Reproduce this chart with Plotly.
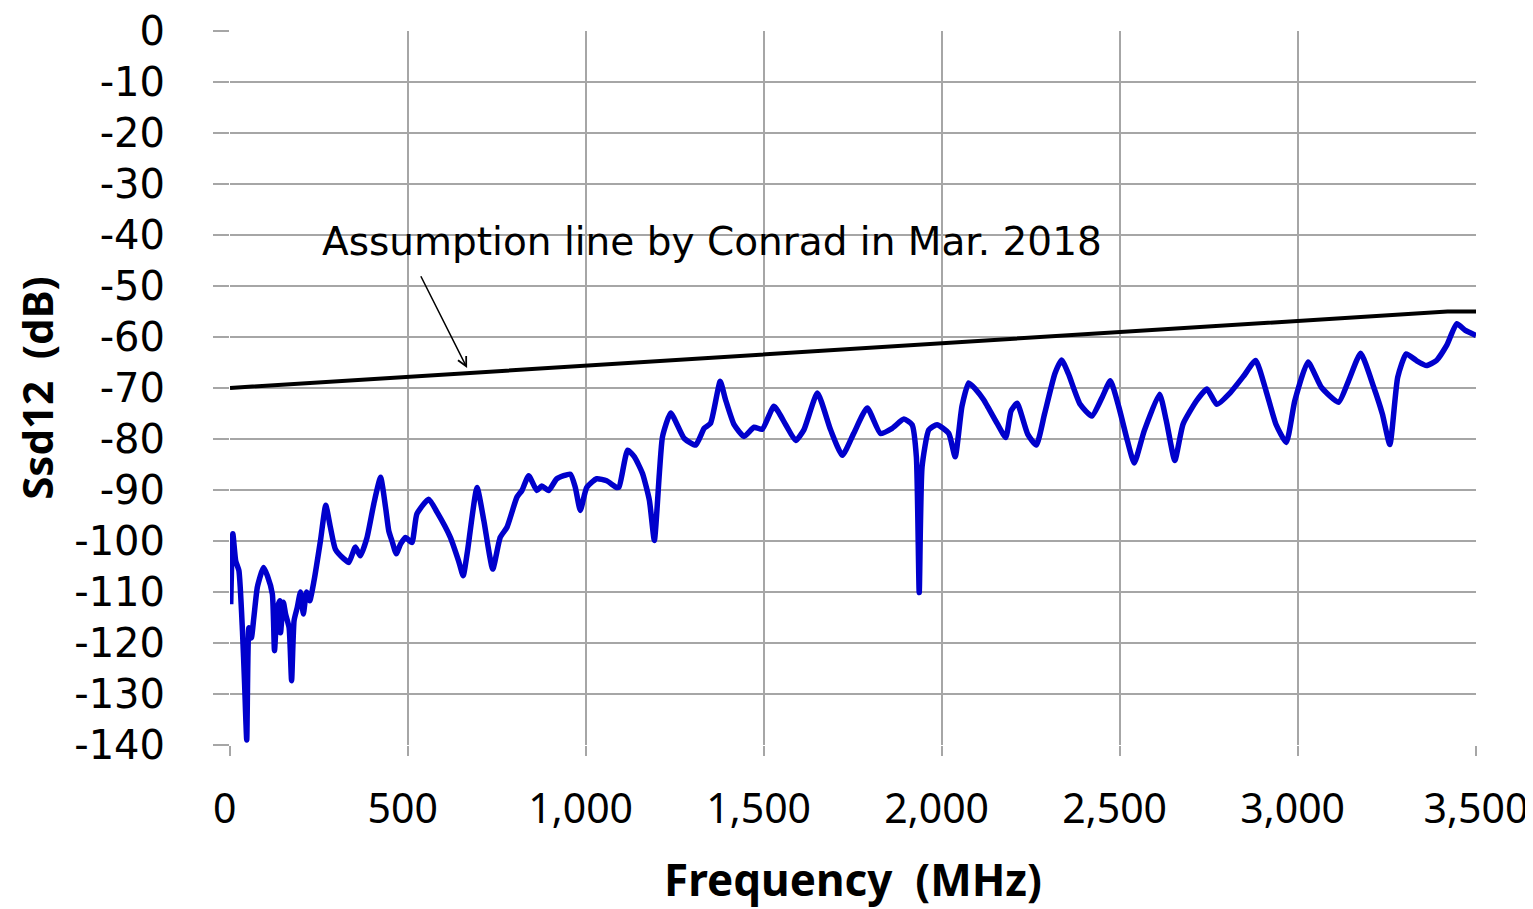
import plotly.graph_objects as go

# Measured Ssd12 (blue)
freq_mhz = [2, 8, 16, 25, 35, 41, 47, 53, 60, 67, 77, 94, 105, 119, 125, 133, 140, 142, 150, 156,
            166, 173, 180, 189, 198, 206, 215, 224, 236, 254, 269, 282, 296, 320, 334, 352, 366, 385,
            404, 423, 437, 446, 455, 467, 479, 493, 511, 525, 558, 582, 619, 642, 655, 666, 694, 713,
            738, 759, 778, 806, 820, 839, 862, 876, 895, 918, 956, 970, 984, 1002, 1030, 1058, 1086,
            1093, 1117, 1136, 1159, 1178, 1192, 1206, 1215, 1238, 1276, 1308, 1332, 1350, 1377, 1392,
            1416, 1444, 1472, 1495, 1528, 1561, 1589, 1612, 1650, 1687, 1720, 1752, 1790, 1827, 1860,
            1893, 1916, 1928, 1936, 1944, 1963, 1986, 2019, 2037, 2056, 2075, 2094, 2117,
            2127, 2156, 2179, 2194, 2211, 2241, 2265, 2288, 2317, 2336, 2355, 2388, 2421, 2450, 2473,
            2497, 2521, 2540, 2568, 2611, 2630, 2654, 2677, 2715, 2744, 2772, 2810, 2848, 2881, 2910,
            2938, 2967, 2991, 3028, 3066, 3114, 3142, 3176, 3213, 3237, 3258, 3280, 3304, 3332, 3361,
            3389, 3418, 3446, 3470, 3500]
ssd12_db = [-112.4, -98.6, -103.9, -105.8, -117.6, -128, -139, -117, -119, -115, -109, -105.2, -106.8,
            -110.4, -121.5, -113, -111.7, -118, -112, -114.3, -117, -127.4, -115.6, -113, -110, -114.3,
            -110, -111.7, -107.8, -100, -93, -97.3, -101.6, -103.5, -104.2, -101.2, -102.9, -99.3,
            -92.7, -87.5, -93.4, -98, -100, -102.5, -100.6, -99.3, -100.3, -94.7, -91.8, -94.4, -99.3,
            -103.9, -106.8, -102.5, -89.5, -96, -105.5, -99.3, -97.3, -91.4, -90.1, -87.2, -90.1,
            -89.2, -90.1, -87.8, -86.9, -89.5, -94, -89.5, -87.8, -88.2, -89.5,
            -89.4, -82.2, -83.5, -86.8, -92, -99.9, -86.8, -79.5, -74.9, -79.9, -81.2, -77.9, -76.9,
            -68.7, -72.3, -77.2, -79.5, -77.7, -78.1, -73.6, -77.2, -80.3, -78.2, -71, -78.2, -83.2,
            -78.9, -73.9, -78.9, -77.9, -76.1, -77.2, -83.5, -110.1, -85.5, -78.2, -77.2, -78.9,
            -83.5, -73.6, -69, -70.2, -72.3,
            -73.5, -77.1, -79.7, -74.5, -73, -79.1, -81.2, -75.1, -67.2, -64.5, -67.2, -73.2, -75.5,
            -71.8, -68.6, -73.8, -80.4, -84.7, -78.4, -71.2, -76.4, -84.2, -77.1, -72.5, -70.2, -73.2,
            -70.9, -67.6, -64.6, -70.5, -77.1, -80.7, -72.5, -64.9, -69.9, -72.8, -68.6, -63.2, -69.9,
            -75.1, -81.1, -67.9, -63.3, -64.6, -65.6, -64.6, -61.6, -57.4, -58.7, -59.7]

# Assumption line (black)
assump_freq = [0, 3420, 3500]
assump_db = [-70, -55, -55]

x_ticks = [0, 500, 1000, 1500, 2000, 2500, 3000, 3500]
x_tick_labels = ["0", "500", "1,000", "1,500", "2,000", "2,500", "3,000", "3,500"]
y_ticks = [0, -10, -20, -30, -40, -50, -60, -70, -80, -90, -100, -110, -120, -130, -140]
y_tick_labels = ["0", "-10", "-20", "-30", "-40", "-50", "-60", "-70", "-80", "-90",
                 "-100", "-110", "-120", "-130", "-140"]

annotation_text = "Assumption line by Conrad in Mar. 2018"

fig = go.Figure()
fig.add_trace(go.Scatter(x=assump_freq, y=assump_db, mode="lines",
                         line=dict(color="#000000", width=4), showlegend=False))
fig.add_trace(go.Scatter(x=freq_mhz, y=ssd12_db, mode="lines",
                         line=dict(color="#0000CC", width=5.5, shape="spline", smoothing=0.5),
                         showlegend=False))

fig.add_annotation(x=1353, y=-41.2, xref="x", yref="y", text=annotation_text,
                   showarrow=False, font=dict(family="DejaVu Sans", size=39, color="#000"))
fig.add_annotation(x=666, y=-66.1, ax=534, ay=-47.8, xref="x", yref="y", axref="x", ayref="y",
                   text="", showarrow=True, arrowhead=5, arrowsize=1.2, arrowwidth=1.5,
                   arrowcolor="#000")

# shift labels slightly left like the reference (except the last, which sits at the edge)
x_tick_text = [t + "\u00a0" for t in x_tick_labels[:-1]] + [x_tick_labels[-1]]

grid_col = "#A6A6A6"
fig.update_xaxes(range=[0, 3500], tickvals=x_ticks, ticktext=x_tick_text,
                 showgrid=True, gridcolor=grid_col, gridwidth=2,
                 ticks="outside", ticklen=10, tickcolor=grid_col, tickwidth=2,
                 showline=False, zeroline=False, automargin=False,
                 ticklabeloverflow="allow",
                 tickfont=dict(family="Noto Sans", size=41, color="#000"),
                 ticklabelstandoff=18,
                 title=dict(text="<b>Frequency  (MHz)</b>",
                            font=dict(family="Noto Sans", size=44, color="#000"),
                            standoff=30))
fig.update_yaxes(range=[-140, 0], tickvals=y_ticks, ticktext=y_tick_labels,
                 showgrid=True, gridcolor=grid_col, gridwidth=2,
                 ticks="outside", ticklen=16, tickcolor=grid_col, tickwidth=2,
                 showline=False, zeroline=False, automargin=False,
                 tickfont=dict(family="DejaVu Sans", size=40, color="#000"),
                 ticklabelstandoff=40,
                 title=dict(text="<b>Ssd12  (dB)</b>",
                            font=dict(family="Noto Sans", size=42, color="#000"),
                            standoff=10))

fig.update_layout(width=1525, height=901, margin=dict(l=222, r=57, t=23, b=164),
                  plot_bgcolor="white", paper_bgcolor="white")

fig.write_html("out.html")
